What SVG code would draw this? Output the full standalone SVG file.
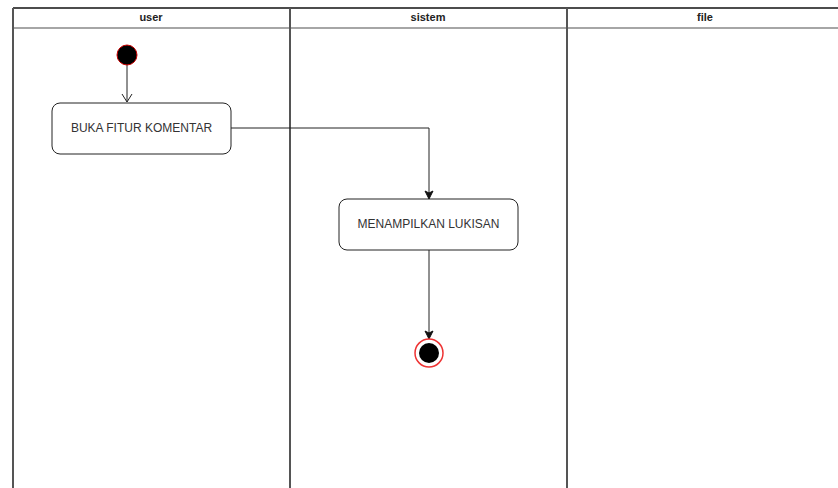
<svg xmlns="http://www.w3.org/2000/svg" width="838" height="488" viewBox="0 0 838 488">
<style>
.lane{fill:none;stroke:#555;stroke-width:2}
.hdr{font-family:"Liberation Sans",Arial,sans-serif;font-size:11px;font-weight:bold;fill:#222;text-anchor:middle}
.act{fill:#fff;stroke:#222;stroke-width:1}
.lbl{font-family:"Liberation Sans",Arial,sans-serif;font-size:12px;fill:#333;text-anchor:middle}
.edge{fill:none;stroke:#222;stroke-width:1}
</style>
<defs>
<marker id="open" markerWidth="12" markerHeight="12" refX="10" refY="6" orient="auto" markerUnits="userSpaceOnUse" viewBox="0 0 12 12">
<path d="M2,1 L10,6 L2,11" fill="none" stroke="#222" stroke-width="1"/>
</marker>
<marker id="fill" markerWidth="10" markerHeight="10" refX="9" refY="5" orient="auto" markerUnits="userSpaceOnUse" viewBox="0 0 10 10">
<path d="M1,1 L9,5 L1,9 L3,5 Z" fill="#111" stroke="#111" stroke-width="1"/>
</marker>
</defs>
<rect width="838" height="488" fill="#fff"/>
<g id="pool">
<line x1="13" y1="8" x2="838" y2="8" stroke="#111" stroke-width="1.5"/>
<line x1="13" y1="28" x2="838" y2="28" stroke="#888" stroke-width="1.5"/>
<line class="lane" x1="13" y1="8" x2="13" y2="488"/>
<line class="lane" x1="290" y1="8" x2="290" y2="488"/>
<line class="lane" x1="567" y1="8" x2="567" y2="488"/>
</g>
<g id="lane-user"><text class="hdr" x="151" y="21">user</text></g>
<g id="lane-sistem"><text class="hdr" x="428" y="21">sistem</text></g>
<g id="lane-file"><text class="hdr" x="705" y="21">file</text></g>
<g id="connectors">
<line class="edge" x1="127" y1="65" x2="127" y2="102" marker-end="url(#open)"/>
<polyline class="edge" points="231,128 429,128 429,199" marker-end="url(#fill)"/>
<line class="edge" x1="429" y1="250" x2="429" y2="339" marker-end="url(#fill)"/>
</g>
<g id="start"><circle cx="127" cy="55" r="10" fill="#000" stroke="#c00" stroke-width="1"/></g>
<g id="buka">
<rect class="act" x="52" y="103" width="179" height="51" rx="8"/>
<text class="lbl" x="141.5" y="132">BUKA FITUR KOMENTAR</text>
</g>
<g id="menampilkan">
<rect class="act" x="339" y="199" width="179" height="51" rx="8"/>
<text class="lbl" x="428.5" y="228">MENAMPILKAN LUKISAN</text>
</g>
<g id="end">
<circle cx="429" cy="353" r="14" fill="#fff" stroke="#e33" stroke-width="1.5"/>
<circle cx="429" cy="353" r="10" fill="#000"/>
</g>
</svg>
